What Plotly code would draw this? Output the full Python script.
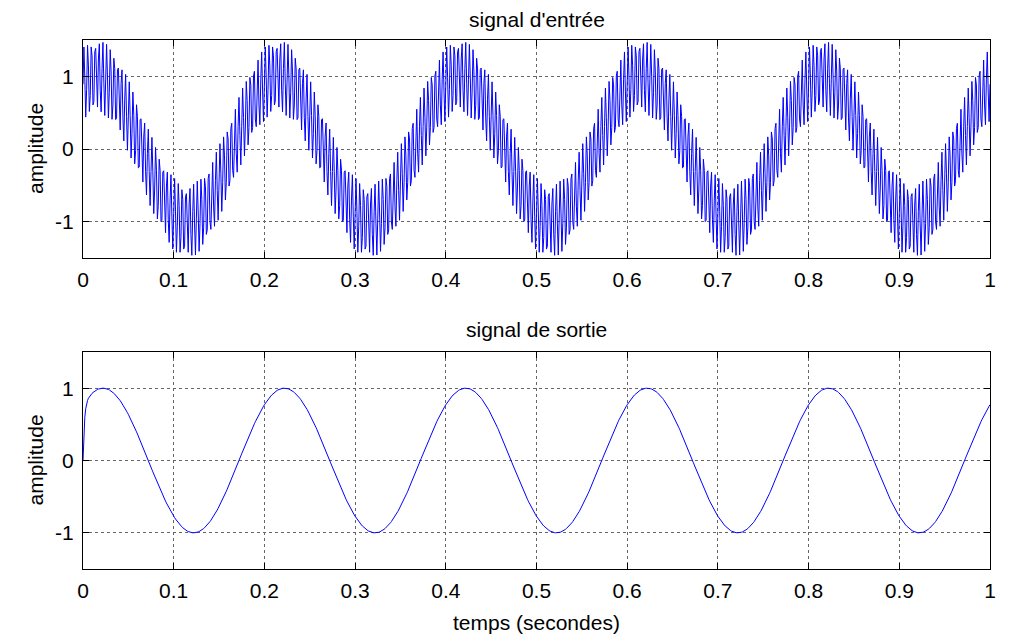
import numpy as np
import plotly.graph_objects as go

# ---- values ----
sample_rate_hz = 1000          # sampling of the plotted signals
duration_s = 1.0
input_slow_freq_hz = 5         # 5 periods per second
input_slow_amp = 1.0
input_slow_phase_rad = 1.1     # first peak near t = 0.015 s
input_carrier_freq_hz = 240    # dense ripple on the input
input_carrier_amp = 0.5
output_amp = 1.0
output_phase_rad = 0.88        # first peak near t = 0.022 s
output_rise_s = 0.0015         # start-up transient of the output

x_ticks = [0, 0.1, 0.2, 0.3, 0.4, 0.5, 0.6, 0.7, 0.8, 0.9, 1]
x_tick_labels = ["0", "0.1", "0.2", "0.3", "0.4", "0.5", "0.6", "0.7", "0.8", "0.9", "1"]
y_ticks = [-1, 0, 1]
y_tick_labels = ["-1", "0", "1"]

title_top = "signal d'entrée"
title_bottom = "signal de sortie"
x_title = "temps (secondes)"
y_title = "amplitude"

t = np.arange(0, duration_s + 1e-9, 1.0 / sample_rate_hz)
input_signal = (input_slow_amp * np.sin(2 * np.pi * input_slow_freq_hz * t + input_slow_phase_rad)
                + input_carrier_amp * np.sin(2 * np.pi * input_carrier_freq_hz * t))
output_signal = (output_amp * np.sin(2 * np.pi * input_slow_freq_hz * t + output_phase_rad)
                 * (1 - np.exp(-t / output_rise_s)))

FONT = "Liberation Sans, Arial, sans-serif"
FS = 21
# page body has an 8 px margin: figure sits at (8, 8) in the window
W, H = 1002, 628
L, R, T, B = 75, 20, 32, 67
plot_w = W - L - R
plot_h = H - T - B
# screen -> figure coords: subtract 8
top_dom = [(H - B - (258 - 8)) / plot_h, 1.0]
bot_dom = [0.0, (H - B - (352 - 8)) / plot_h]

fig = go.Figure()
fig.add_trace(go.Scatter(x=t, y=input_signal, mode="lines",
                         line=dict(color="#0000FF", width=1), xaxis="x", yaxis="y",
                         showlegend=False, hoverinfo="skip"))
fig.add_trace(go.Scatter(x=t, y=output_signal, mode="lines",
                         line=dict(color="#0000FF", width=1), xaxis="x2", yaxis="y2",
                         showlegend=False, hoverinfo="skip"))

common_x = dict(range=[0, 1], tickvals=x_ticks, ticktext=x_tick_labels,
                ticks="inside", ticklen=6, tickcolor="black", mirror="allticks",
                showline=True, linecolor="black", linewidth=1,
                showgrid=True, gridcolor="#666666", griddash="dot", gridwidth=1,
                zeroline=False, ticklabelstandoff=3,
                tickfont=dict(family=FONT, size=FS, color="black"))
common_y = dict(range=[-1.5, 1.5], tickvals=y_ticks, ticktext=y_tick_labels,
                ticks="inside", ticklen=6, tickcolor="black", mirror="allticks",
                showline=True, linecolor="black", linewidth=1,
                showgrid=True, gridcolor="#666666", griddash="dot", gridwidth=1,
                zeroline=False, ticklabelstandoff=4,
                tickfont=dict(family=FONT, size=FS, color="black"))

ytitle_x = -(L - (35 - 8)) / plot_w

fig.update_layout(
    width=W, height=H,
    margin=dict(l=L, r=R, t=T, b=B, autoexpand=False),
    paper_bgcolor="white", plot_bgcolor="white",
    font=dict(family=FONT, size=FS, color="black"),
    xaxis=dict(common_x, domain=[0, 1], anchor="y"),
    yaxis=dict(common_y, domain=top_dom, anchor="x"),
    xaxis2=dict(common_x, domain=[0, 1], anchor="y2"),
    yaxis2=dict(common_y, domain=bot_dom, anchor="x2"),
    annotations=[
        dict(text=title_top, xref="paper", yref="paper", x=0.5, y=top_dom[1],
             yshift=21, showarrow=False, xanchor="center", yanchor="middle",
             font=dict(family=FONT, size=FS)),
        dict(text=title_bottom, xref="paper", yref="paper", x=0.5, y=bot_dom[1],
             yshift=23, showarrow=False, xanchor="center", yanchor="middle",
             font=dict(family=FONT, size=FS)),
        dict(text=y_title, xref="paper", yref="paper", x=ytitle_x,
             y=(top_dom[0] + top_dom[1]) / 2, textangle=-90, showarrow=False,
             xanchor="center", yanchor="middle", font=dict(family=FONT, size=FS)),
        dict(text=y_title, xref="paper", yref="paper", x=ytitle_x,
             y=(bot_dom[0] + bot_dom[1]) / 2, textangle=-90, showarrow=False,
             xanchor="center", yanchor="middle", font=dict(family=FONT, size=FS)),
        dict(text=x_title, xref="paper", yref="paper", x=0.5, y=0,
             yshift=-((622 - 8) - (H - B)), showarrow=False,
             xanchor="center", yanchor="middle", font=dict(family=FONT, size=FS)),
    ],
)

fig.write_html("out.html")
